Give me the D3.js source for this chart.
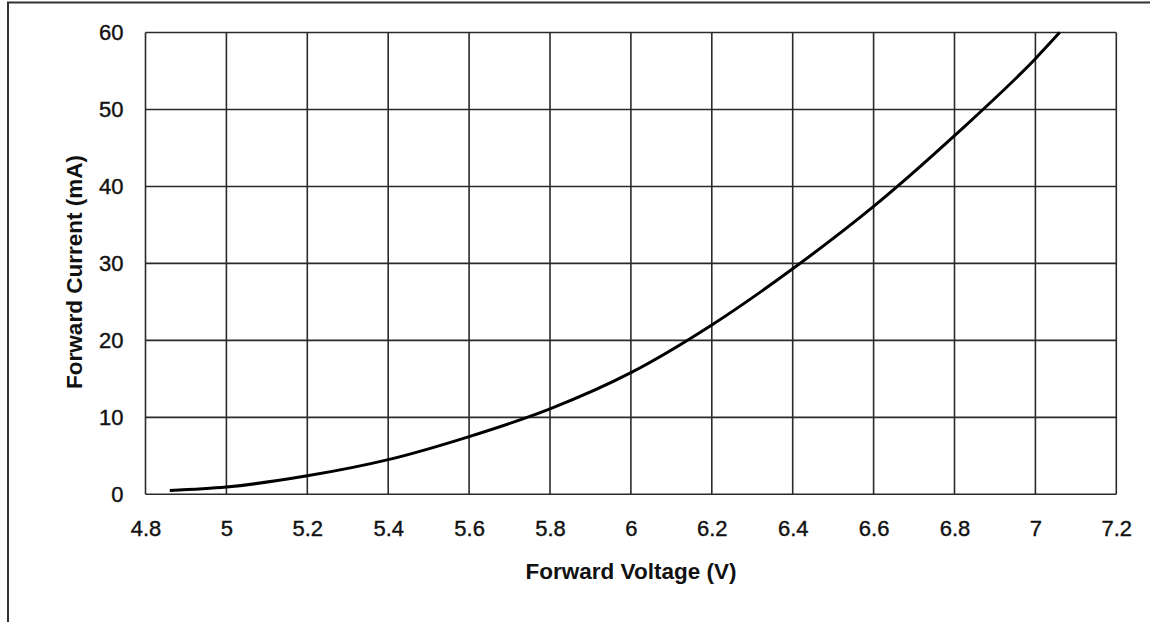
<!DOCTYPE html>
<html>
<head>
<meta charset="utf-8">
<script src="https://cdn.jsdelivr.net/npm/d3@7"></script>
<style>
  body { margin: 0; background: #fff; }
  svg { display: block; }
  text { font-family: "Liberation Sans", Arial, sans-serif; fill: #111; }
</style>
</head>
<body>
<svg width="1150" height="622"></svg>
<script>
const width = 1150;
const height = 622;

// values
const voltage = [4.86, 5.0, 5.2, 5.4, 5.6, 5.8, 6.0, 6.2, 6.4, 6.6, 6.8, 7.0, 7.06];
const current = [0.5, 0.95, 2.4, 4.5, 7.5, 11.1, 15.8, 22.0, 29.3, 37.4, 46.6, 56.6, 60];
const xTicks = [4.8, 5, 5.2, 5.4, 5.6, 5.8, 6, 6.2, 6.4, 6.6, 6.8, 7, 7.2];
const yTicks = [0, 10, 20, 30, 40, 50, 60];

const margin = {left: 145.5, right: 1116.3, top: 32.5, bottom: 494.3};

const svg = d3.select('svg');

// outer frame (right/bottom edges fall outside the picture)
svg.append('rect')
  .attr('x', 8).attr('y', 2.5)
  .attr('width', 1160).attr('height', 640)
  .attr('fill', 'none')
  .attr('stroke', '#333')
  .attr('stroke-width', 2);

const x = d3.scaleLinear().domain([4.8, 7.2]).range([margin.left, margin.right]);
const y = d3.scaleLinear().domain([0, 60]).range([margin.bottom, margin.top]);

// grid
const grid = svg.append('g').attr('stroke', '#2a2a2a').attr('stroke-width', 1.6);
grid.selectAll('line.v')
  .data(xTicks)
  .join('line')
  .attr('class', 'v')
  .attr('x1', d => x(d)).attr('x2', d => x(d))
  .attr('y1', margin.top).attr('y2', margin.bottom);
grid.selectAll('line.h')
  .data(yTicks)
  .join('line')
  .attr('class', 'h')
  .attr('x1', margin.left).attr('x2', margin.right)
  .attr('y1', d => y(d)).attr('y2', d => y(d));

// axes, d3 axis used for the labels only
const xAxis = svg.append('g')
  .attr('transform', `translate(0,${margin.bottom})`)
  .call(d3.axisBottom(x).tickValues(xTicks).tickSize(0).tickPadding(26).tickFormat(d3.format('')));
const yAxis = svg.append('g')
  .attr('transform', `translate(${margin.left},0)`)
  .call(d3.axisLeft(y).tickValues(yTicks).tickSize(0).tickPadding(22));
[xAxis, yAxis].forEach(a => {
  a.select('.domain').remove();
  a.selectAll('text')
    .attr('font-size', 22)
    .attr('font-family', '"Liberation Sans", Arial, sans-serif')
    .attr('fill', '#111')
    .attr('stroke', '#111')
    .attr('stroke-width', 0.4);
});

// curve
const pts = voltage.map((v, i) => [v, current[i]]);
const line = d3.line()
  .x(d => x(d[0]))
  .y(d => y(d[1]))
  .curve(d3.curveMonotoneX);
svg.append('path')
  .datum(pts)
  .attr('d', line)
  .attr('fill', 'none')
  .attr('stroke', '#000')
  .attr('stroke-width', 3);

// titles
svg.append('text')
  .attr('x', 631).attr('y', 579)
  .attr('text-anchor', 'middle')
  .attr('font-size', 22.5)
  .attr('font-weight', 'bold')
  .text('Forward Voltage (V)');

svg.append('text')
  .attr('transform', 'translate(82,272) rotate(-90)')
  .attr('text-anchor', 'middle')
  .attr('font-size', 22.5)
  .attr('font-weight', 'bold')
  .text('Forward Current (mA)');
</script>
</body>
</html>
